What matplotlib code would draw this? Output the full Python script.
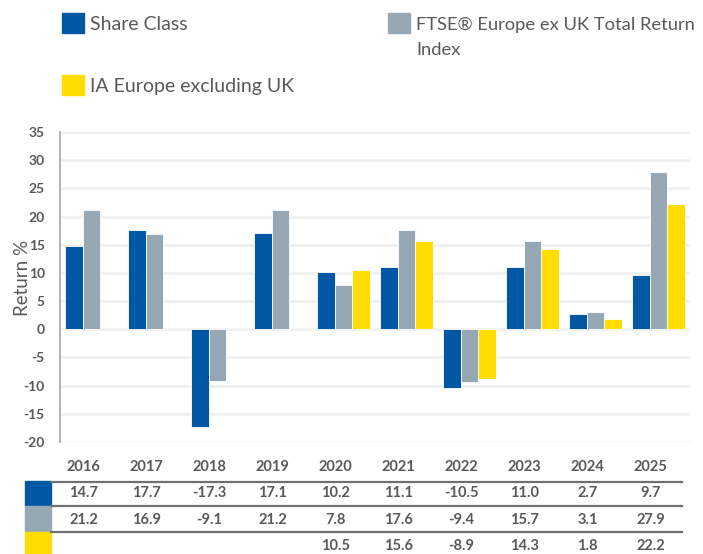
import matplotlib.pyplot as plt
import matplotlib.transforms as mtransforms
from matplotlib.patches import Rectangle
from matplotlib.lines import Line2D
import numpy as np

years = ["2016", "2017", "2018", "2019", "2020", "2021", "2022", "2023", "2024", "2025"]
share_class = [14.7, 17.7, -17.3, 17.1, 10.2, 11.1, -10.5, 11.0, 2.7, 9.7]
ftse_index = [21.2, 16.9, -9.1, 21.2, 7.8, 17.6, -9.4, 15.7, 3.1, 27.9]
ia_sector = [None, None, None, None, 10.5, 15.6, -8.9, 14.3, 1.8, 22.2]

series_names = [["Share Class"], ["FTSE\u00ae Europe ex UK Total Return", "Index"], ["IA Europe excluding UK"]]
colors = ["#0057a4", "#96a8b4", "#ffdd00"]
text_grey = "#595959"

plt.rcParams['font.family'] = ['Lato', 'DejaVu Sans']

fig = plt.figure(figsize=(7.03, 5.54), dpi=100)
ax = fig.add_axes([60 / 703, 1 - 442 / 554, 630 / 703, 310 / 554])

x = np.arange(len(years))
width = 0.28
all_series = [share_class, ftse_index, ia_sector]
for i, vals in enumerate(all_series):
    xs = [xi + (i - 1) * width for xi, v in zip(x, vals) if v is not None]
    ys = [v for v in vals if v is not None]
    ax.bar(xs, ys, width, color=colors[i], edgecolor="white", linewidth=0.6, zorder=3)

ax.set_xlim(-0.5, len(years) - 0.5)
ax.set_ylim(-20, 35)
ax.set_yticks(range(-20, 36, 5))
ax.set_yticklabels([str(t) for t in range(-20, 36, 5)], fontweight="bold", color=text_grey, fontsize=10)
ax.tick_params(axis="y", length=0, pad=11)
ax.set_xticks([])
ax.grid(axis="y", color="#efefef", linewidth=1.8, zorder=0)
for s in ["top", "right", "bottom"]:
    ax.spines[s].set_visible(False)
ax.spines["left"].set_color("#a6a6a6")
ax.spines["left"].set_linewidth(1.2)


def fy(p):
    return 1 - p / 554


def fx(p):
    return p / 703


# y label overlaps the tick labels, as in the original
fig.text(fx(23), fy(278), "Return %", rotation=90, color=text_grey, fontsize=13.5,
         ha="center", va="center")

# legend
legend_pos = [(62, 23), (388, 23), (62, 85)]
for (px, py), lines, c in zip(legend_pos, series_names, colors):
    fig.patches.append(Rectangle((fx(px), fy(py + 10)), fx(22), 20 / 554, color=c, transform=fig.transFigure))
    size = 14 if len(lines) == 1 else 13.2
    for k, line in enumerate(lines):
        fig.text(fx(px + 28), fy(py + 7 + k * 25), line, color=text_grey, fontsize=size,
                 va="baseline", ha="left")

# data table below chart (columns sit slightly left of the bar groups)
trans = mtransforms.blended_transform_factory(ax.transData, fig.transFigure)
col_shift = -8 / 63
for xi, yr in zip(x, years):
    fig.text(xi + col_shift, fy(467), yr, transform=trans, ha="center", va="center",
             fontweight="bold", color=text_grey, fontsize=10.5)

row_y = [493, 520, 546]
for vals, ry in zip(all_series, row_y):
    for xi, v in zip(x, vals):
        if v is not None:
            fig.text(xi + col_shift, fy(ry), f"{v:.1f}", transform=trans, ha="center", va="center",
                     fontweight="bold", color=text_grey, fontsize=10.5)

for ly in [482, 506, 532]:
    fig.lines.append(Line2D([fx(51), fx(682)], [fy(ly), fy(ly)], color="#6f6f6f", linewidth=1.6,
                            transform=fig.transFigure))

swatch_rows = [(481, 506), (506, 532), (532, 554)]
for (y0, y1), c in zip(swatch_rows, colors):
    fig.patches.append(Rectangle((fx(25), fy(y1)), fx(26), (y1 - y0) / 554, color=c, transform=fig.transFigure))

fig.savefig("out.png", dpi=100)
